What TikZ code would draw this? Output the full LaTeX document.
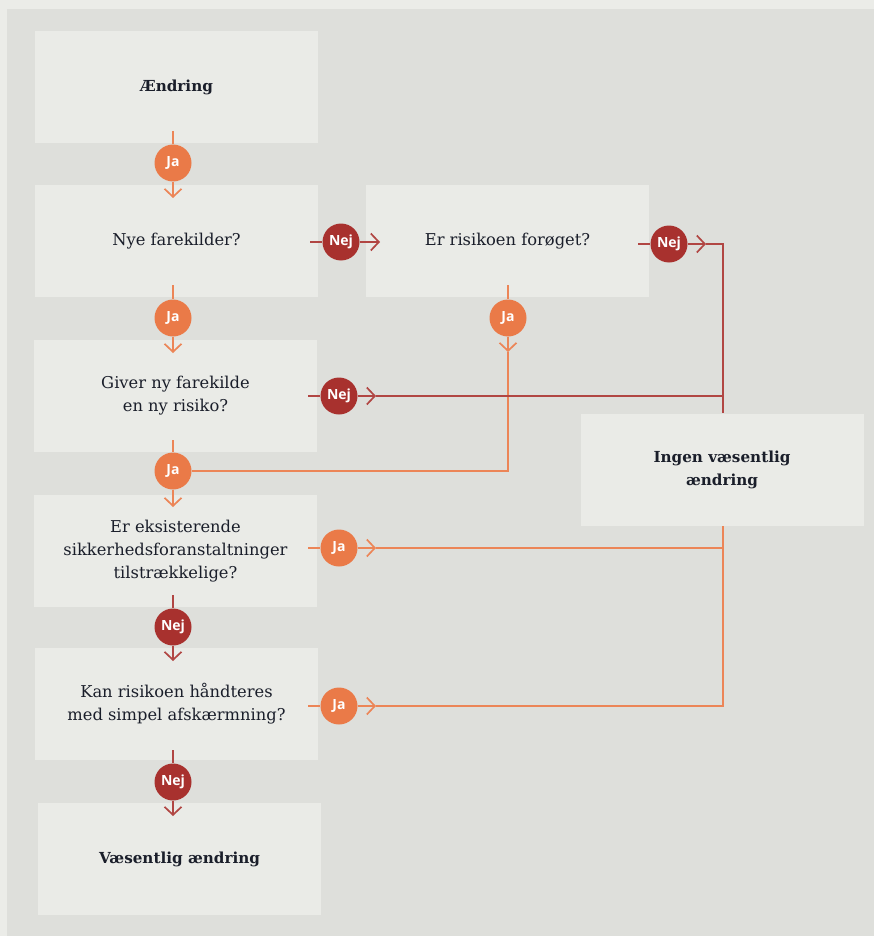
\documentclass[tikz,border=0pt]{standalone}
\usepackage{fontspec}
\setmainfont{DejaVu Serif}
\newfontfamily\labfont{Open Sans}
\usetikzlibrary{arrows.meta}
\definecolor{outerbg}{HTML}{EBECE8}
\definecolor{panelbg}{HTML}{DEDFDB}
\definecolor{boxbg}{HTML}{EAEBE7}
\definecolor{jaor}{HTML}{EA7A48}
\definecolor{nejred}{HTML}{A8312E}
\definecolor{txt}{HTML}{1A1E2A}
\tikzset{
  x=1pt, y=-1pt,
  flowbox/.style={fill=boxbg, draw=none, minimum width=283pt, minimum height=112pt, inner sep=0pt,
    align=center, text=txt, font=\fontsize{16.3}{23}\selectfont},
  endbox/.style={flowbox, font=\fontsize{15.2}{23}\selectfont\bfseries},
  jac/.style={circle, fill=jaor, minimum size=37pt, inner sep=0pt, text=white, font=\labfont\fontsize{14}{14}\selectfont\bfseries},
  nejc/.style={jac, fill=nejred},
  oline/.style={draw=jaor!92!white, line width=1.8pt},
  rline/.style={draw=nejred!90!white, line width=1.8pt},
  tip/.style={-{Straight Barb[length=8pt,width=17pt,line width=1.7pt]}},
}
\begin{document}
\begin{tikzpicture}
\fill[outerbg] (0,0) rectangle (874,936);
\fill[panelbg] (7,9) rectangle (874,936);

% boxes
\node[endbox]  (aend) at (176.5,87.5) {Ændring};
\node[flowbox] (nye)  at (176.5,241) {Nye farekilder?};
\node[flowbox] (ris)  at (507.5,241) {Er risikoen forøget?};
\node[flowbox] (giv)  at (175.5,396) {Giver ny farekilde\\en ny risiko?};
\node[flowbox] (eks)  at (175.5,551) {Er eksisterende\\sikkerhedsforanstaltninger\\tilstrækkelige?};
\node[flowbox] (kan)  at (176.5,704) {Kan risikoen håndteres\\med simpel afskærmning?};
\node[endbox]  (vaes) at (179.5,859) {Væsentlig ændring};
\node[endbox]  (ing)  at (722,469.5) {Ingen væsentlig\\ændring};

% line start / tip coordinates
\coordinate (s1) at (173,131);  \coordinate (t1) at (173,198);
\coordinate (s2) at (173,285);  \coordinate (t2) at (173,353);
\coordinate (s3) at (173,440);  \coordinate (t3) at (173,507);
\coordinate (s4) at (173,595);  \coordinate (t4) at (173,661);
\coordinate (s5) at (173,750);  \coordinate (t5) at (173,816);
\coordinate (h1) at (310,242);  \coordinate (u1) at (380,242);
\coordinate (h2) at (638,244);  \coordinate (u2) at (706,244);
\coordinate (h3) at (308,396);  \coordinate (u3) at (376,396);
\coordinate (h4) at (308,548);  \coordinate (u4) at (376,548);
\coordinate (h5) at (308,706);  \coordinate (u5) at (376,706);
\coordinate (rs) at (508,285);  \coordinate (rt) at (508,352);
\coordinate (rc) at (508,471);
\coordinate (cx) at (723,244);  \coordinate (cg) at (723,396);
\coordinate (ce) at (723,548);  \coordinate (ck) at (723,706);

% circles
\node[jac]  (j1) at (173,163) {Ja};
\node[jac]  (j2) at (173,318) {Ja};
\node[jac]  (j3) at (173,471) {Ja};
\node[nejc] (n4) at (173,627) {Nej};
\node[nejc] (n5) at (173,782) {Nej};
\node[nejc] (n1) at (341,242) {Nej};
\node[nejc] (n2) at (669,244) {Nej};
\node[nejc] (n3) at (339,396) {Nej};
\node[jac]  (j4) at (339,548) {Ja};
\node[jac]  (j5) at (339,706) {Ja};
\node[jac]  (jr) at (508,318) {Ja};

% vertical main column
\draw[oline] (s1) -- (j1.north);  \draw[oline,tip] (j1.south) -- (t1);
\draw[oline] (s2) -- (j2.north);  \draw[oline,tip] (j2.south) -- (t2);
\draw[oline] (s3) -- (j3.north);  \draw[oline,tip] (j3.south) -- (t3);
\draw[rline] (s4) -- (n4.north);  \draw[rline,tip] (n4.south) -- (t4);
\draw[rline] (s5) -- (n5.north);  \draw[rline,tip] (n5.south) -- (t5);

% Nye -> Er risikoen
\draw[rline] (h1) -- (n1.west);   \draw[rline,tip] (n1.east) -- (u1);
% Er risikoen -> Ingen
\draw[rline] (h2) -- (n2.west);   \draw[rline,tip] (n2.east) -- (u2);
\draw[rline] (u2) -- (cx) -- (ing.north -| cx);
% Er risikoen Ja -> back to Ja of Giver
\draw[oline] (rs) -- (jr.north);  \draw[oline,tip] (jr.south) -- (rt);
\draw[oline] (rt) -- (rc) -- (j3.east);
% Giver Nej -> Ingen
\draw[rline] (h3) -- (n3.west);   \draw[rline,tip] (n3.east) -- (u3);
\draw[rline] (u3) -- (cg);
% Er eksisterende Ja -> Ingen
\draw[oline] (h4) -- (j4.west);   \draw[oline,tip] (j4.east) -- (u4);
\draw[oline] (u4) -- (ce);
% Kan Ja -> Ingen
\draw[oline] (h5) -- (j5.west);   \draw[oline,tip] (j5.east) -- (u5);
\draw[oline] (u5) -- (ck) -- (ing.south -| ck);
\end{tikzpicture}
\end{document}
